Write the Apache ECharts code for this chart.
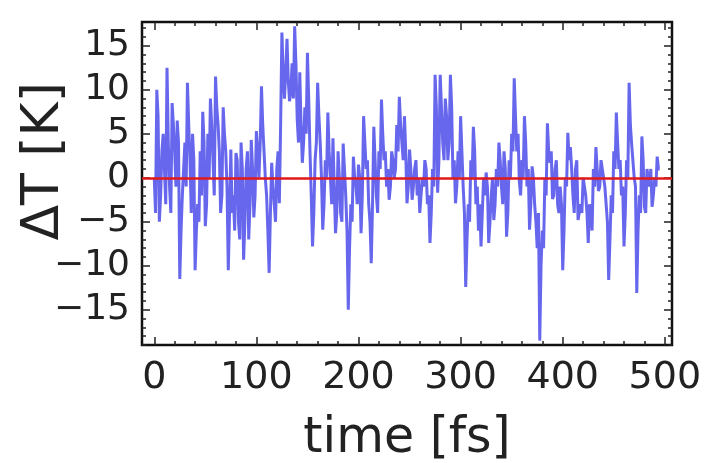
<!DOCTYPE html>
<html>
<head>
<meta charset="utf-8">
<script src="https://cdn.jsdelivr.net/npm/echarts@6/dist/echarts.min.js"></script>
<style>html,body{margin:0;padding:0;background:#fff}#c{width:706px;height:463px}</style>
</head>
<body>
<div id="c"></div>
<script>
// ΔT [K] values, every 2.5 fs starting at 0 fs
const deltaTMain = [
 0,10,-5,3,1,12.5,-1,8.5,3,6.5,-11.5,-2,4,10.8,2,5,-10.5,-3,3,7.5,
 -5.5,5,9,2,11.5,6,-4,8,3,-10.5,3.2,-2,2.8,-5,4,-9.3,1,-7,4.3,-4.5,
 5.3,0,10.4,3,-2,-10.8,1.7,-3,1,-2.9,16.5,9,15.8,8.7,13,17.2,6.6,12,1.7,8,
 14.2,3,-7.8,2,10.8,4,-5.9,2,7.4,0,4.5,-6.3,3,-4,3.9,-2,-15,-3,2.4,-1,
 1.5,-6.3,7,1,-3,-9.7,5.8,-2,3,8.9,2,-1,-2.5,3,0,6,9.2,4,7,-2.9,
 3.2,-2.5,1,-2,-4,0,2,-3,-7.4,1,11.7,-1.7,11.7,4,9,2,11.7,0,-2.9,3,
 7,-1,-12.4,-3,2,5.8,-3,-6,-7.8,0,0.6,-7.4,-2,-4.8,1,4,-1,3,-6.7,2,
 5,11.3,3,-0.4,2,7,-1,-5.9,1.3,-3,-8,-18.5,-6,0,6.2,1.7,-2.4,1,-3,-1,
 -10.5,0,5.1,3.5,-2,1,-4.8,-3,0,-2,-7.4,-4,1,3.5,-1.5,2,0,-3,-11.6,-2,
 3,7.4,1,-2,-7.8,2,10.8,3.8,0,-13.1,-2,4.7,-3.3,1,-1,-3.3,0,2.4,1
];
// ΔT [K] values between them (fast oscillation), at 1.25 fs + every 2.5 fs
const deltaTBetween = [
 -4,7,-2,5,-3,4,-4,6,-1,4,-6,1,-1,6,-4,2,-6,-5,-2,4,
 -3,0,6,-2,8,3,-2,5,-1,-4,-4,-6,2,-7,1,-5,3,-3,1,-2,
 3,4,6,0,-6,-4,-1,-5,3,6,12,12,11,10,9,13,4,6,4,5,
 9,-2,-4,4,7,0,-3,0,3,-3,-1,-4,0,-5,1,-6,-8,-5,0,-3,
 0,-2,4,2,-5,-3,2,-4,1,5,3,1,-1,2,1,3,6,2,3,-1,
 1,-1,2,0,-2,-1,1,-2,-4,-1,8,2,8,2,7,4,8,2,-1,0,
 3,-4,-7,-5,0,3,-1,-3,-4,-2,-1,-5,0,-3,-1,2,-3,1,-4,0,
 3,7,5,-2,0,4,1,-3,0,-5,-4,-10,-8,-2,3,3,-2,2,-4,-3,
 -6,-1,2,1,-4,2,-5,-4,-1,-4,-3,-6,-1,1,-1,1,-1,-5,-7,-4,
 1,4,2,-1,-4,0,6,4,-1,-6,-4,2,-4,0,1,-2,-1,1
];
const dtStep = 2.5;
const xMajor = [0,100,200,300,400,500];
const yMajor = [-15,-10,-5,0,5,10,15];
const xMinor = [20,40,60,80,120,140,160,180,220,240,260,280,320,340,360,380,420,440,460,480];
const yMinor = [];
for (let v = -19; v <= 17; v++) if (v % 5 !== 0) yMinor.push(v);

const xMin = -12, xMax = 507, yMin = -19, yMax = 17.7;
const seriesData = [];
deltaTMain.forEach((v, i) => {
  seriesData.push([i * dtStep, v]);
  if (i < deltaTBetween.length && i < deltaTMain.length - 1) seriesData.push([i * dtStep + dtStep / 2, deltaTBetween[i]]);
});
const fmt = v => (v < 0 ? '\u2212' + Math.abs(v) : String(v));
const font = 'DejaVu Sans';
const txt = '#222';

function xAx(pos, ticks, len, labels, extra) {
  return Object.assign({
    type: 'value', min: xMin, max: xMax, position: pos,
    axisLine: {show: false, onZero: false}, splitLine: {show: false},
    axisTick: {show: true, inside: true, length: len, customValues: ticks, lineStyle: {color: '#222', width: 1.5}},
    axisLabel: labels ? {customValues: xMajor, formatter: fmt, fontFamily: font, fontSize: 38, color: txt, margin: 14} : {show: false}
  }, extra || {});
}
function yAx(pos, ticks, len, labels, extra) {
  return Object.assign({
    type: 'value', min: yMin, max: yMax, position: pos,
    axisLine: {show: false, onZero: false}, splitLine: {show: false},
    axisTick: {show: true, inside: true, length: len, customValues: ticks, lineStyle: {color: '#222', width: 1.5}},
    axisLabel: labels ? {customValues: yMajor, formatter: fmt, fontFamily: font, fontSize: 36, color: txt, margin: 12} : {show: false}
  }, extra || {});
}

const chart = echarts.init(document.getElementById('c'), null, {renderer: 'canvas'});
chart.setOption({
  animation: false,
  backgroundColor: '#fff',
  grid: {left: 142, right: 34, top: 22, bottom: 118, show: true, borderColor: '#111', borderWidth: 2.5,
    backgroundColor: 'transparent', containLabel: false, outerBoundsMode: 'none'},
  xAxis: [
    xAx('bottom', xMajor, 8, true, {name: 'time [fs]', nameLocation: 'middle', nameGap: 70,
      nameTextStyle: {fontFamily: font, fontSize: 49, color: txt}}),
    xAx('bottom', xMinor, 4, false),
    xAx('top', xMajor, 8, false),
    xAx('top', xMinor, 4, false)
  ],
  yAxis: [
    yAx('left', yMajor, 8, true),
    yAx('left', yMinor, 4, false),
    yAx('right', yMajor, 8, false),
    yAx('right', yMinor, 4, false)
  ],
  graphic: [{
    type: 'text', left: 18, top: 82, rotation: Math.PI / 2,
    style: {text: '\u0394T [K]', font: '52px "DejaVu Sans"', fill: txt}
  }],
  series: [{
    type: 'line', data: seriesData, showSymbol: false, symbol: 'none',
    lineStyle: {color: 'rgba(45,45,230,0.72)', width: 3},
    markLine: {silent: true, symbol: 'none', label: {show: false},
      lineStyle: {color: '#e01818', width: 2.5, type: 'solid'}, data: [{yAxis: 0}]}
  }]
});
</script>
</body>
</html>
